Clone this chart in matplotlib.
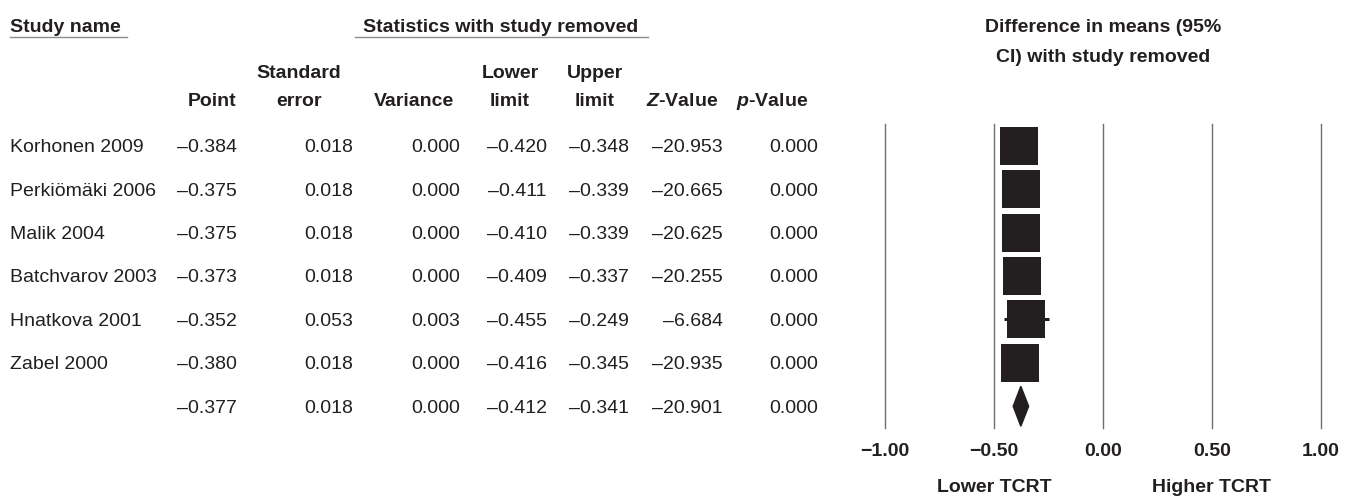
import matplotlib
matplotlib.use("Agg")
import matplotlib.pyplot as plt
from matplotlib.transforms import blended_transform_factory
from matplotlib.patches import Polygon

plt.rcParams['font.family'] = ['Liberation Sans', 'DejaVu Sans']
plt.rcParams['mathtext.fontset'] = 'custom'
plt.rcParams['mathtext.it'] = 'Liberation Sans:italic:bold'
plt.rcParams['mathtext.rm'] = 'Liberation Sans:bold'

# ---- data -------------------------------------------------------------
studies = ["Korhonen 2009", "Perkiömäki 2006", "Malik 2004",
           "Batchvarov 2003", "Hnatkova 2001", "Zabel 2000", ""]
point = [-0.384, -0.375, -0.375, -0.373, -0.352, -0.380, -0.377]
std_err = [0.018, 0.018, 0.018, 0.018, 0.053, 0.018, 0.018]
variance = [0.000, 0.000, 0.000, 0.000, 0.003, 0.000, 0.000]
lower = [-0.420, -0.411, -0.410, -0.409, -0.455, -0.416, -0.412]
upper = [-0.348, -0.339, -0.339, -0.337, -0.249, -0.345, -0.341]
z_value = [-20.953, -20.665, -20.625, -20.255, -6.684, -20.935, -20.901]
p_value = [0.000, 0.000, 0.000, 0.000, 0.000, 0.000, 0.000]

x_ticks = [-1.0, -0.5, 0.0, 0.5, 1.0]
x_tick_labels = ["\u22121.00", "\u22120.50", "0.00", "0.50", "1.00"]

# ---- figure -----------------------------------------------------------
W, H = 1355, 496
INK = "#231f20"
fig = plt.figure(figsize=(W / 100, H / 100), dpi=100)


def fx(px):
    return px / W


def fy(py):
    return 1 - py / H


# forest-plot axes
ax = fig.add_axes([fx(885), fy(428), fx(1321) - fx(885), (428 - 124) / H])
ax.set_xlim(-1.0, 1.0)
n = len(studies)
ax.set_ylim(n - 0.5, -0.5)
for s in ax.spines.values():
    s.set_visible(False)
ax.set_yticks([])
ax.set_xticks(x_ticks)
ax.set_xticklabels(x_tick_labels, fontsize=14, fontweight='bold', color=INK)
ax.tick_params(axis='x', length=0, pad=11)
for xv in x_ticks:
    ax.axvline(xv, color='#6e6e6e', lw=1.0, zorder=1, clip_on=False)

rows = list(range(n))
study_rows = rows[:-1]
ax.hlines(study_rows, lower[:-1], upper[:-1], color=INK, lw=2.2, zorder=2)
ax.plot(point[:-1], study_rows, 's', ms=28, mew=0, color=INK, zorder=3)

# pooled estimate diamond
r = rows[-1]
diamond = Polygon([(lower[-1], r), (point[-1], r - 0.46),
                   (upper[-1], r), (point[-1], r + 0.46)],
                  closed=True, color=INK, zorder=3, clip_on=False)
ax.add_patch(diamond)

# ---- table ------------------------------------------------------------
row_tr = blended_transform_factory(fig.transFigure, ax.transData)


def fmt(v):
    return f"{v:.3f}".replace("-", "\u2013")


columns = [(point, 237), (std_err, 353), (variance, 460), (lower, 547),
           (upper, 629), (z_value, 723), (p_value, 818)]

for i, name in enumerate(studies):
    ax.text(fx(10), i, name, transform=row_tr, ha='left',
            va='center_baseline', fontsize=14, color=INK)
    for vals, right in columns:
        ax.text(fx(right), i, fmt(vals[i]), transform=row_tr, ha='right',
                va='center_baseline', fontsize=14, color=INK)

# column headers
hdr = dict(fontsize=14, fontweight='bold', color=INK, ha='center',
           va='center_baseline')
headers = [("", "Point", 212), ("Standard", "error", 299),
           ("", "Variance", 414), ("Lower", "limit", 510),
           ("Upper", "limit", 595), ("", r"$\mathit{Z}$-Value", 682),
           ("", r"$\mathit{p}$-Value", 772)]
for top, bottom, cx in headers:
    if top:
        fig.text(fx(cx), fy(72), top, **hdr)
    fig.text(fx(cx), fy(99), bottom, **hdr)

# group titles with underlines
ttl = dict(fontsize=14, fontweight='bold', color=INK, va='center_baseline')
fig.text(fx(10), fy(25), "Study name", ha='left', **ttl)
fig.text(fx(501), fy(25), "Statistics with study removed", ha='center', **ttl)
for x0, x1 in [(10, 127), (355, 648)]:
    fig.add_artist(plt.Line2D([fx(x0), fx(x1)], [fy(37), fy(37)],
                              transform=fig.transFigure, color='#8c8c8c', lw=1.0))

fig.text(fx(1103), fy(25), "Difference in means (95%", ha='center', **ttl)
fig.text(fx(1103), fy(55), "CI) with study removed", ha='center', **ttl)

# direction labels below the axis
dir_tr = blended_transform_factory(ax.transData, fig.transFigure)
ax.text(-0.5, fy(485), "Lower TCRT", transform=dir_tr, ha='center', **ttl)
ax.text(0.5, fy(485), "Higher TCRT", transform=dir_tr, ha='center', **ttl)

fig.savefig("out.png", dpi=100, facecolor='white')
